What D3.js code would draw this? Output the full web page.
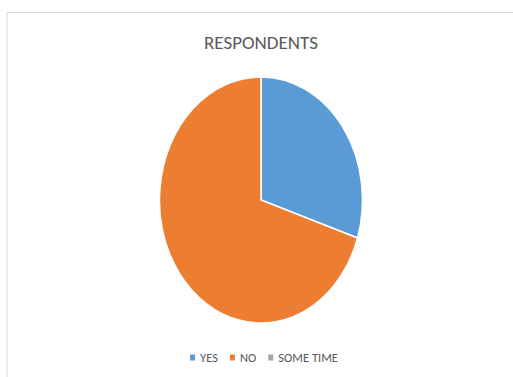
<!DOCTYPE html>
<html>
<head>
<meta charset="utf-8">
<script src="https://cdn.jsdelivr.net/npm/d3@7"></script>
<style>
  html, body { margin: 0; padding: 0; background: #fff; }
  svg { display: block; }
  text { font-family: Carlito, Calibri, "Liberation Sans Narrow", "Open Sans", sans-serif; }
</style>
</head>
<body>
<svg id="chart" width="513" height="377"></svg>
<script>
// Survey responses
const categories = ["YES", "NO", "SOME TIME"];
const values = [30, 70, 0];
const colors = ["#5B9BD5", "#ED7D31", "#A5A5A5"];
const title = "RESPONDENTS";

const svg = d3.select("#chart");
const W = 513, H = 377;

// chart area frame
svg.append("rect")
  .attr("x", 7).attr("y", 12.5)
  .attr("width", W + 10).attr("height", H + 10)
  .attr("fill", "#fff")
  .attr("stroke", "#d9d9d9")
  .attr("stroke-width", 1);

// title
svg.append("text")
  .attr("x", 261).attr("y", 48.5)
  .attr("text-anchor", "middle")
  .attr("font-size", 19)
  .attr("fill", "#595959")
  .text(title);

// pie (plot area is taller than wide, so the circle is stretched into an ellipse)
const cx = 261, cy = 200, rx = 101.5, ry = 123;
const data = categories.map((c, i) => ({ cat: c, value: values[i], color: colors[i] }));
const pie = d3.pie().sort(null).value(d => d.value).startAngle(0).endAngle(2 * Math.PI);
const arc = d3.arc().innerRadius(0).outerRadius(ry);

const g = svg.append("g")
  .attr("transform", `translate(${cx},${cy}) scale(${rx / ry},1)`);

g.selectAll("path")
  .data(pie(data).filter(d => d.data.value > 0))
  .join("path")
  .attr("d", arc)
  .attr("fill", d => d.data.color)
  .attr("stroke", "#fff")
  .attr("stroke-width", 1.5)
  .attr("vector-effect", "non-scaling-stroke");

// legend
const legend = svg.append("g");
const fs = 12.5, sw = 5, gapSwatch = 5, gapItem = 12;
let x = 0;
const items = legend.selectAll("g.item")
  .data(data)
  .join("g")
  .attr("class", "item");
items.each(function (d) {
  const it = d3.select(this);
  it.append("rect")
    .attr("x", 0).attr("y", -7)
    .attr("width", sw).attr("height", sw + 1)
    .attr("fill", d.color);
  const t = it.append("text")
    .attr("x", sw + gapSwatch).attr("y", 0)
    .attr("font-size", fs)
    .attr("fill", "#595959")
    .text(d.cat);
  it.attr("transform", `translate(${x},0)`);
  x += sw + gapSwatch + t.node().getComputedTextLength() + gapItem;
});
const total = x - gapItem;
legend.attr("transform", `translate(${264 - total / 2},361.5)`);
</script>
</body>
</html>
